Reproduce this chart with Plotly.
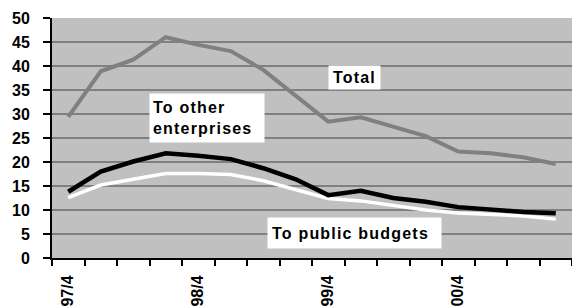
import plotly.graph_objects as go

# ---- data ----
quarters = ["97/4", "98/1", "98/2", "98/3", "98/4", "99/1", "99/2", "99/3",
            "99/4", "00/1", "00/2", "00/3", "00/4", "01/1", "01/2", "01/3"]
tick_labels = ["97/4", "", "", "", "98/4", "", "", "",
               "99/4", "", "", "", "00/4", "", "", ""]
total = [29.4, 38.9, 41.3, 46.0, 44.4, 43.1, 39.2, 33.9,
         28.4, 29.3, 27.4, 25.4, 22.2, 21.8, 21.0, 19.6]
to_other_enterprises = [13.8, 18.0, 20.1, 21.8, 21.3, 20.6, 18.7, 16.4,
                        13.1, 14.0, 12.5, 11.7, 10.6, 10.0, 9.6, 9.3]
to_public_budgets = [12.6, 15.2, 16.4, 17.6, 17.6, 17.4, 16.1, 14.2,
                     12.4, 11.9, 11.0, 10.0, 9.4, 9.1, 8.75, 8.1]
y_ticks = [0, 5, 10, 15, 20, 25, 30, 35, 40, 45, 50]

FONT = "Liberation Sans, Arial, sans-serif"

fig = go.Figure()
fig.add_trace(go.Scatter(x=quarters, y=to_public_budgets, mode="lines",
                         line=dict(color="#FFFFFF", width=3.5),
                         name="To public budgets"))
fig.add_trace(go.Scatter(x=quarters, y=to_other_enterprises, mode="lines",
                         line=dict(color="#000000", width=4.5),
                         name="To other enterprises"))
fig.add_trace(go.Scatter(x=quarters, y=total, mode="lines",
                         line=dict(color="#808080", width=4),
                         name="Total"))

ann_font = dict(family=FONT, size=16, color="#000000", weight="bold")
fig.add_annotation(x=8.82, y=37.7, xref="x", yref="y", text="Total",
                   showarrow=False, bgcolor="#FFFFFF", borderpad=1,
                   width=49, height=21, align="center",
                   xanchor="center", yanchor="middle", font=ann_font)
fig.add_annotation(x=4.28, y=29.1, xref="x", yref="y",
                   text="To other<br>enterprises",
                   showarrow=False, bgcolor="#FFFFFF", borderpad=3,
                   width=108, height=42, align="left",
                   xanchor="center", yanchor="middle", font=ann_font)
fig.add_annotation(x=8.82, y=5.2, xref="x", yref="y",
                   text="To public budgets",
                   showarrow=False, bgcolor="#FFFFFF", borderpad=4,
                   width=165, height=22, align="left",
                   xanchor="center", yanchor="middle", font=ann_font)

fig.update_layout(
    width=572, height=308,
    margin=dict(l=52, r=0, t=18, b=50, autoexpand=False),
    paper_bgcolor="#FFFFFF",
    plot_bgcolor="#C0C0C0",
    showlegend=False,
    font=dict(family=FONT, size=16, color="#000000"),
)
fig.update_xaxes(
    type="category", automargin=False,
    tickmode="array", tickvals=quarters, ticktext=tick_labels,
    tickson="boundaries",
    ticks="outside", ticklen=6, tickwidth=2, tickcolor="#000000",
    tickangle=-90,
    tickfont=dict(family=FONT, size=16, color="#000000", weight="bold"),
    ticklabelstandoff=9,
    showline=True, linecolor="#000000", linewidth=2,
    showgrid=False, zeroline=False,
    range=[-0.5, 15.5],
)
fig.update_yaxes(
    range=[0, 50], automargin=False,
    tickmode="array", tickvals=y_ticks,
    ticks="outside", ticklen=7, tickwidth=2, tickcolor="#000000",
    tickfont=dict(family=FONT, size=16, color="#000000", weight="bold"),
    ticklabelstandoff=10,
    showline=True, linecolor="#000000", linewidth=2,
    showgrid=True, gridcolor="#808080", gridwidth=1.5,
    zeroline=False,
)

post = """
var s = document.createElement('style');
s.textContent = 'html,body{margin:0;padding:0;overflow:hidden;} .annotation-text{letter-spacing:1.2px;}';
document.head.appendChild(s);
"""
fig.write_html("out.html", post_script=post,
               config={"displayModeBar": False, "staticPlot": True})
